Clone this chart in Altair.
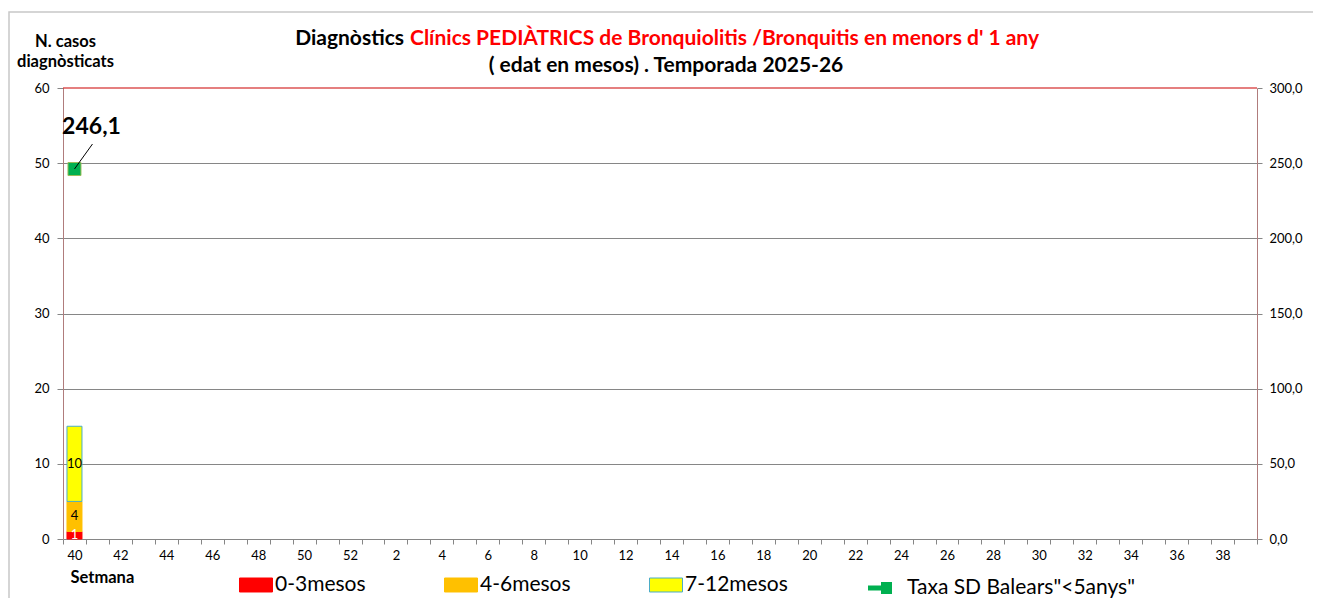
import altair as alt
import pandas as pd

# ---- data ----
setmanes = ["40", "41", "42", "43", "44", "45", "46", "47", "48", "49", "50", "51", "52",
            "1", "2", "3", "4", "5", "6", "7", "8", "9", "10", "11", "12", "13", "14", "15",
            "16", "17", "18", "19", "20", "21", "22", "23", "24", "25", "26", "27", "28",
            "29", "30", "31", "32", "33", "34", "35", "36", "37", "38", "39"]
setmana_dades = ["40"]
casos_0_3 = [1]
casos_4_6 = [4]
casos_7_12 = [10]
taxa_sd = [246.1]
grups = ["0-3mesos", "4-6mesos", "7-12mesos"]
colors_grups = ["#FF0000", "#FFC000", "#FFFF00"]
stroke_grups = ["#FF0000", "#FFC000", "#4BACC6"]
serie_taxa = 'Taxa SD Balears"<5anys"'

FONT = "Lato"

rows = []
for i, s in enumerate(setmana_dades):
    base = 0
    for k, (g, vals) in enumerate(zip(grups, [casos_0_3, casos_4_6, casos_7_12])):
        v = vals[i]
        rows.append({"setmana": s, "grup": g, "casos": v, "ordre": k, "mig": base + v / 2})
        base += v
df_bars = pd.DataFrame(rows)
df_taxa = pd.DataFrame({"setmana": setmana_dades, "taxa": taxa_sd, "serie": [serie_taxa] * len(taxa_sd),
                        "etiqueta": [f"{v:.1f}".replace(".", ",") for v in taxa_sd]})

x_scale = alt.Scale(domain=setmanes, paddingInner=0, paddingOuter=0)
x_enc = alt.X(
    "setmana:N",
    scale=x_scale,
    axis=alt.Axis(
        labelExpr="toNumber(datum.value) % 2 == 0 ? datum.value : ''",
        tickBand="extent", labelAngle=0, domainColor="#868686", tickColor="#868686",
        tickSize=5, labelPadding=5, labelFontSize=13, labelColor="black", labelFont=FONT,
        title="Setmana", titleFontWeight="bold", titleFontSize=16.5, titleFont=FONT,
        titleAnchor="start", titleAlign="left", titleBaseline="alphabetic", titleX=7, titleY=43,
        titleColor="black",
    ),
)

y_left = alt.Y(
    "casos:Q", stack="zero",
    scale=alt.Scale(domain=[0, 60], nice=False),
    axis=alt.Axis(
        values=[0, 10, 20, 30, 40, 50, 60], grid=True, gridColor="#868686",
        gridOpacity={"condition": {"test": "datum.value == 60 || datum.value == 0", "value": 0}, "value": 1},
        domainColor="#B07C7C", tickColor="#868686", tickSize=6, labelPadding=8,
        labelFontSize=13, labelFont=FONT, labelColor="black",
        title=["N. casos", "diagnòsticats"], titleAngle=0, titleAlign="center",
        titleBaseline="alphabetic", titleX=2, titleY=-42, titleFontWeight="bold",
        titleFontSize=16.5, titleFont=FONT, titleLineHeight=20, titleColor="black",
    ),
)

bar_legend = alt.Legend(
    orient="none", legendX=176, legendY=480, direction="horizontal", title=None,
    symbolType="M-1,-0.424H1V0.424H-1Z", symbolSize=1089, symbolStrokeWidth=1,
    labelFontSize=21, labelFont=FONT, labelColor="black", labelOffset=2,
    columnPadding=76, labelLimit=400,
)

bars = alt.Chart(df_bars).mark_bar(width=15, strokeWidth=1).encode(
    x=x_enc,
    y=y_left,
    color=alt.Color("grup:N", scale=alt.Scale(domain=grups, range=colors_grups), legend=bar_legend),
    stroke=alt.Stroke("grup:N", scale=alt.Scale(domain=grups, range=stroke_grups), legend=bar_legend),
    order=alt.Order("ordre:Q", sort="ascending"),
)

bar_text = alt.Chart(df_bars).mark_text(fontSize=13, font=FONT, baseline="middle").encode(
    x=alt.X("setmana:N", scale=x_scale),
    y=alt.Y("mig:Q"),
    text=alt.Text("casos:Q"),
    color=alt.condition(alt.datum.grup == "0-3mesos", alt.value("white"), alt.value("black")),
)

# title (two lines, mixed colours), plot top border and outer chart frame
t1a = alt.Chart(pd.DataFrame({"t": ["Diagnòstics"]})).mark_text(
    fontSize=21, fontWeight="bold", font=FONT, align="right", baseline="middle", color="black"
).encode(x=alt.value(341), y=alt.value(-49), text="t:N")
t1b = alt.Chart(pd.DataFrame({"t": ["Clínics PEDIÀTRICS de Bronquiolitis /Bronquitis en menors d' 1 any"]})).mark_text(
    fontSize=21, fontWeight="bold", font=FONT, align="left", baseline="middle", color="#FF0000"
).encode(x=alt.value(347), y=alt.value(-49), text="t:N")
t2 = alt.Chart(pd.DataFrame({"t": ["( edat en mesos) . Temporada 2025-26"]})).mark_text(
    fontSize=21, fontWeight="bold", font=FONT, align="center", baseline="middle", color="black"
).encode(x=alt.value(603), y=alt.value(-22), text="t:N")
frame = alt.Chart(pd.DataFrame({"t": [0]})).mark_rect(fillOpacity=0, stroke="#C8C8C8", strokeWidth=1.5).encode(
    x=alt.value(-54), x2=alt.value(1400), y=alt.value(-76), y2=alt.value(700)
)
top_border = alt.Chart(pd.DataFrame({"t": [0]})).mark_rule(color="#CC0000", strokeWidth=1.2).encode(
    x=alt.value(0), x2=alt.value(1194), y=alt.value(0)
)

left = alt.layer(frame, top_border, bars, bar_text, t1a, t1b, t2)

y_right = alt.Y(
    "taxa:Q", scale=alt.Scale(domain=[0, 300], nice=False),
    axis=alt.Axis(
        orient="right", values=[0, 50, 100, 150, 200, 250, 300], grid=False,
        labelExpr="replace(format(datum.value, '.1f'), '.', ',')",
        domainColor="#B07C7C", tickColor="#868686", tickSize=5, labelPadding=7,
        labelFontSize=13, labelFont=FONT, labelColor="black", title=None,
    ),
)

x_r = alt.X("setmana:N", scale=x_scale)

point = alt.Chart(df_taxa).mark_point(
    shape="square", filled=True, size=169, stroke="#9BBB59", strokeWidth=1, opacity=1
).encode(
    x=x_r, y=y_right,
    color=alt.Color(
        "serie:N", scale=alt.Scale(domain=[serie_taxa], range=["#00B050"]),
        legend=alt.Legend(
            orient="none", legendX=803, legendY=480, direction="horizontal", title=None,
            symbolType="M-0.9,-0.125H-0.2V0.125H-0.9Z M-0.25,-0.3H0.3V0.3H-0.25Z",
            symbolSize=1600, symbolStrokeWidth=0, labelFontSize=21, labelFont=FONT,
            labelColor="black", labelOffset=1, labelLimit=400,
        ),
    ),
)
leader = alt.Chart(df_taxa).mark_rule(color="black", strokeWidth=1, x2Offset=18, y2Offset=-25).encode(
    x=x_r, y="taxa:Q", x2="setmana:N", y2="taxa:Q"
)
label = alt.Chart(df_taxa).mark_text(
    fontSize=23, fontWeight="bold", font=FONT, dx=17, dy=-42, color="black"
).encode(x=x_r, y="taxa:Q", text="etiqueta:N")

right = alt.layer(point, leader, label)

chart = alt.layer(left, right).resolve_scale(y="independent", color="independent", stroke="independent").properties(
    width=1194, height=451,
    padding={"left": 55, "top": 80, "right": 56, "bottom": 60},
    autosize=alt.AutoSizeParams(type="none"),
).configure(font=FONT).configure_view(strokeWidth=0)

chart.save("out.html", embed_options={"renderer": "svg", "actions": False})
